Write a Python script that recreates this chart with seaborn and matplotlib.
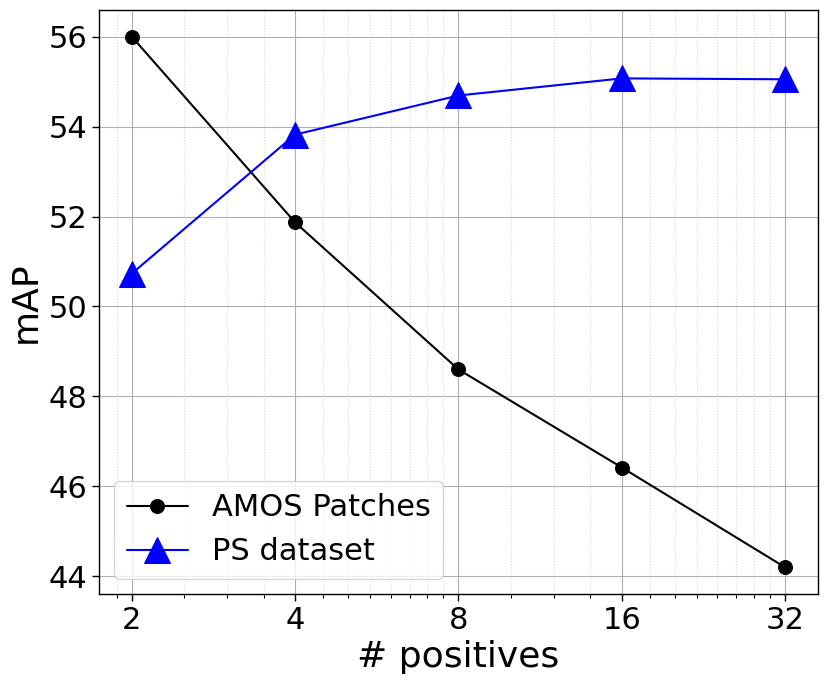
import matplotlib
matplotlib.use('Agg')
import pandas as pd
import matplotlib.pyplot as plt
import seaborn as sns
from matplotlib.ticker import FixedLocator, ScalarFormatter, NullFormatter

# values
positives = [2, 4, 8, 16, 32]
amos_map = [56.0, 51.87, 48.6, 46.42, 44.2]
ps_map = [50.73, 53.82, 54.69, 55.07, 55.05]
minor_ticks = [1.88, 2.5, 3, 3.5, 4.5, 5, 5.5, 6, 6.5, 7, 7.5,
               10, 12, 14, 18, 20, 22, 24, 26, 28, 30]

df_amos = pd.DataFrame({'positives': positives, 'mAP': amos_map})
df_ps = pd.DataFrame({'positives': positives, 'mAP': ps_map})

sns.set_style('white')
plt.rcParams['font.family'] = ['DejaVu Sans']
plt.rcParams['text.color'] = 'black'
plt.rcParams['axes.labelcolor'] = 'black'
plt.rcParams['xtick.color'] = 'black'
plt.rcParams['ytick.color'] = 'black'

fig = plt.figure(figsize=(8.28, 6.82), dpi=100)
ax = fig.add_axes([99 / 828, 88 / 682, 719 / 828, 584 / 682])

sns.lineplot(x='positives', y='mAP', data=df_amos, ax=ax, color='black',
             marker='o', markersize=10, markeredgecolor='black',
             linewidth=1.5, label='AMOS Patches')
sns.lineplot(x='positives', y='mAP', data=df_ps, ax=ax, color='blue',
             marker='^', markersize=19, markeredgecolor='blue',
             linewidth=1.5, label='PS dataset')

ax.set_xscale('log', base=2)
ax.set_xlim(2 * 2 ** -0.2, 32 * 2 ** 0.2)
ax.set_xticks(positives)
ax.xaxis.set_major_formatter(ScalarFormatter())
ax.xaxis.set_minor_locator(FixedLocator(minor_ticks))
ax.xaxis.set_minor_formatter(NullFormatter())
ax.set_yticks([44, 46, 48, 50, 52, 54, 56])

ax.grid(True, which='major', color='#b0b0b0', linewidth=0.8)
ax.grid(True, which='minor', axis='x', color='#d8d8d8', linestyle=':', linewidth=0.8)
ax.set_axisbelow(True)

for s in ax.spines.values():
    s.set_color('black')
    s.set_linewidth(1.0)

ax.tick_params(axis='both', which='major', labelsize=22, length=5, width=1,
               color='black', labelcolor='black', bottom=True, left=True)
ax.tick_params(axis='x', which='minor', length=3, width=0.8, bottom=True)
ax.set_xlabel('# positives', fontsize=26, color='black')
ax.set_ylabel('mAP', fontsize=26, color='black')

leg = ax.legend(loc='lower left', fontsize=22, framealpha=0.8)
for t in leg.get_texts():
    t.set_color('black')

fig.savefig('out.png', dpi=100)
